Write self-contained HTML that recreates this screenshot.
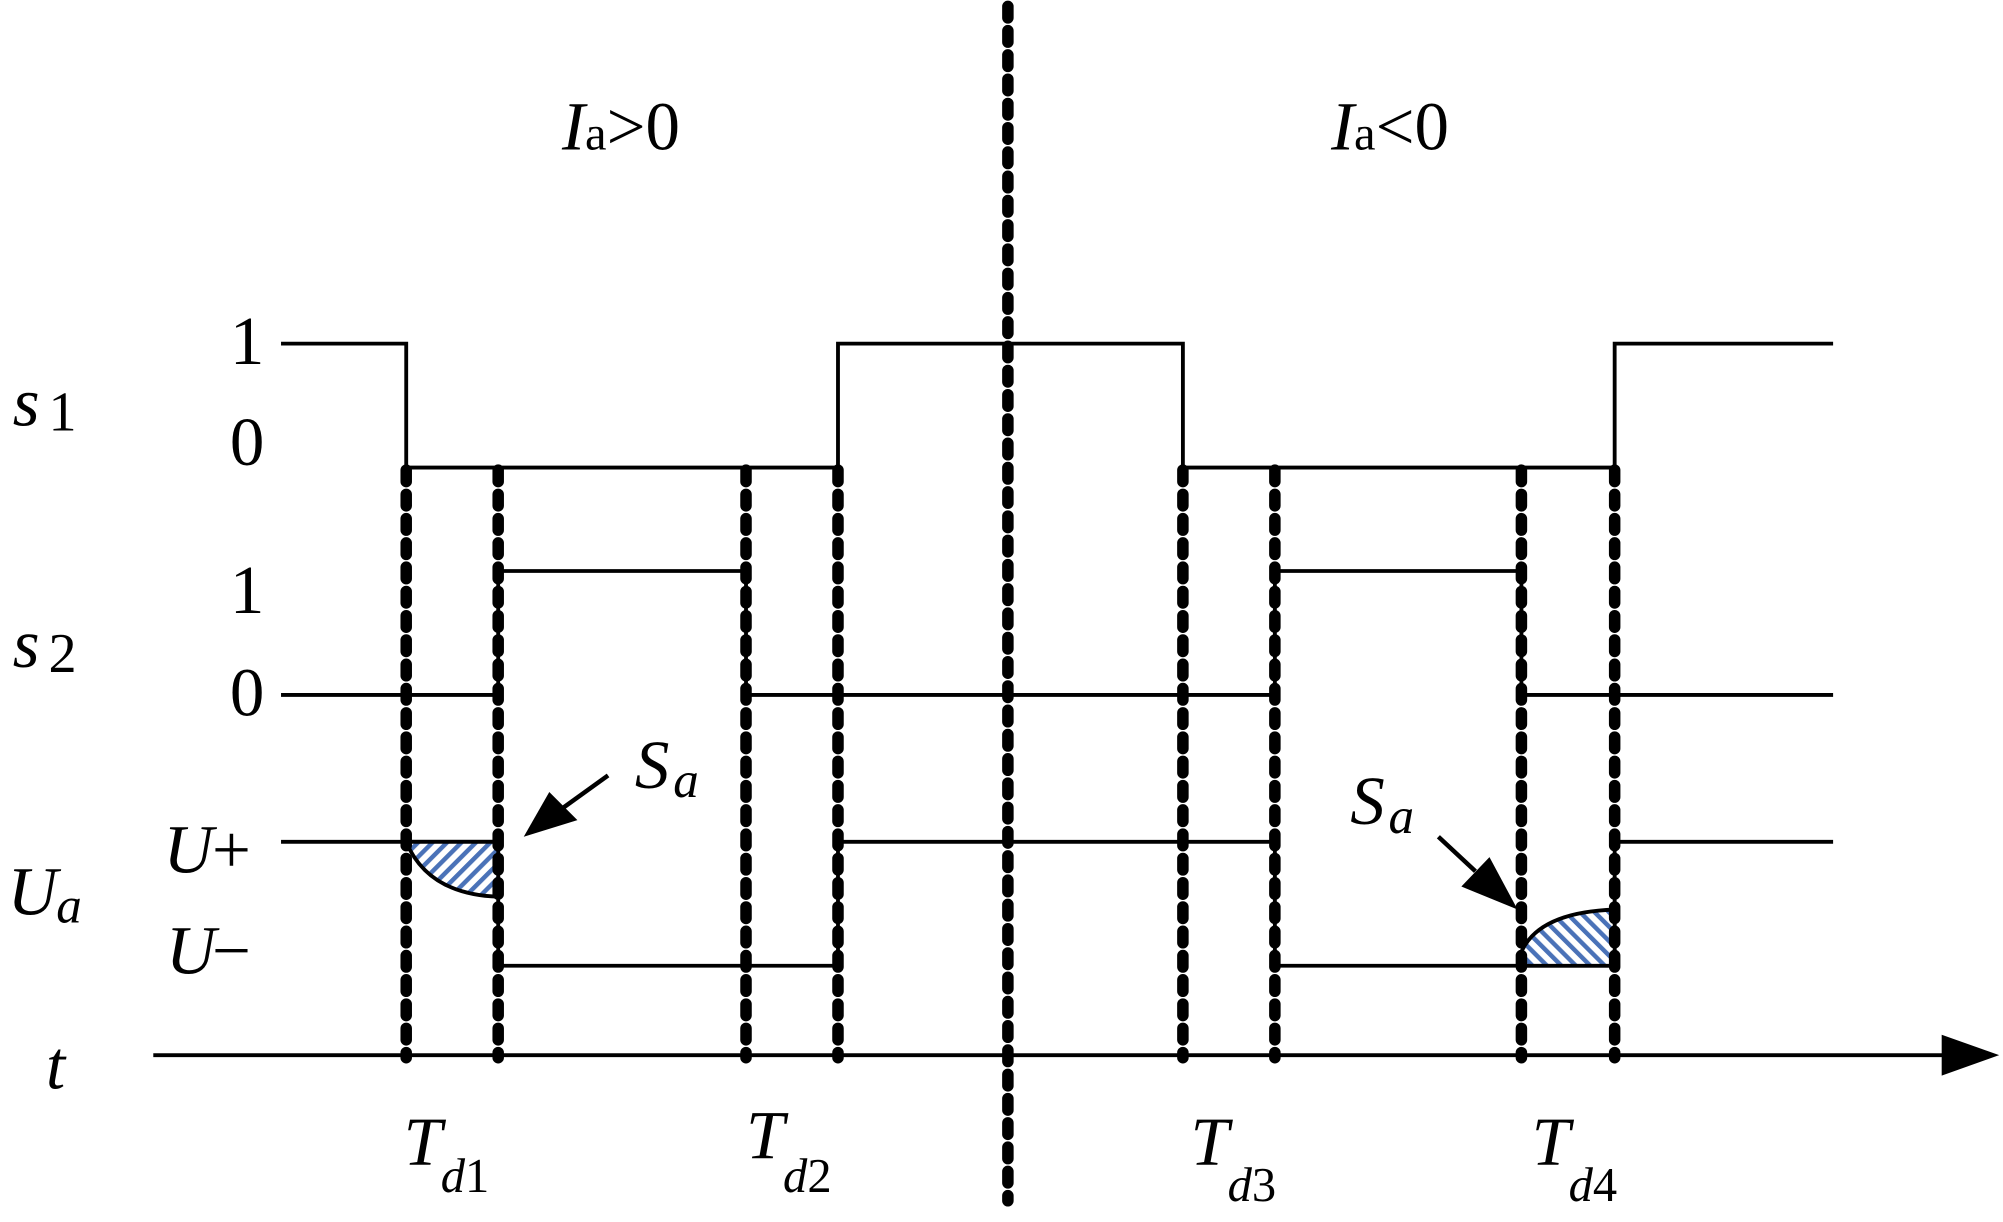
<!DOCTYPE html>
<html><head><style>html,body{margin:0;padding:0;background:#fff;}svg{display:block}text{font-family:"Liberation Serif","Times New Roman",serif;}</style></head>
<body>
<svg width="2003" height="1222" viewBox="0 0 1568 956.6" preserveAspectRatio="none" xmlns="http://www.w3.org/2000/svg">
<defs>
<pattern id="h" patternUnits="userSpaceOnUse" width="8" height="8" patternTransform="rotate(45)">
<rect width="8" height="8" fill="#fff"/><rect width="3.5" height="8" fill="#4a72b8"/>
</pattern>
<pattern id="h2" patternUnits="userSpaceOnUse" width="8" height="8" patternTransform="rotate(-45)">
<rect width="8" height="8" fill="#fff"/><rect width="3.5" height="8" fill="#4a72b8"/>
</pattern>
</defs>
<g fill="none" stroke="#000" stroke-width="3">
<polyline points="220,269 318,269 318,366 656,366 656,269 926,269 926,366 1264,366 1264,269 1435,269"/>
<polyline points="220,544 390,544 390,447 584,447 584,544 998,544 998,447 1191,447 1191,544 1435,544"/>
<polyline points="220,659 390,659 390,756 656,756 656,659 998,659 998,756 1264,756 1264,659 1435,659"/>
<line x1="120" y1="826" x2="1525" y2="826"/>
</g>
<polygon points="1520,810 1565,826 1520,842" fill="#000"/>
<path d="M318,659 L390,659 L390,702 Q335,700 318,659 Z" fill="url(#h)" stroke="#000" stroke-width="3"/>
<path d="M1191,756 L1264,756 L1264,712 Q1205,714 1191,745 Z" fill="url(#h2)" stroke="#000" stroke-width="3"/>
<g stroke="#000" stroke-width="9" stroke-linecap="round" stroke-dasharray="9 10" fill="none">
<line x1="318" y1="368" x2="318" y2="828"/>
<line x1="390" y1="368" x2="390" y2="828"/>
<line x1="584" y1="368" x2="584" y2="828"/>
<line x1="656" y1="368" x2="656" y2="828"/>
<line x1="926" y1="368" x2="926" y2="828"/>
<line x1="998" y1="368" x2="998" y2="828"/>
<line x1="1191" y1="368" x2="1191" y2="828"/>
<line x1="1264" y1="368" x2="1264" y2="828"/>
<line x1="789" y1="5" x2="789" y2="940"/>
</g>
<line x1="476" y1="607" x2="440" y2="633" stroke="#000" stroke-width="3.5"/>
<polygon points="410,655 430,620 452,642" fill="#000"/>
<line x1="1126" y1="655" x2="1155" y2="682" stroke="#000" stroke-width="3.5"/>
<polygon points="1188,712 1144,694 1166,671" fill="#000"/>
<g font-size="54" fill="#000">
<text x="440" y="117"><tspan font-style="italic">I</tspan><tspan font-size="38">a</tspan>&gt;0</text>
<text x="1042" y="117"><tspan font-style="italic">I</tspan><tspan font-size="38">a</tspan>&lt;0</text>
<text x="10" y="333" font-style="italic">s</text><text x="38" y="337" font-size="44">1</text>
<text x="180" y="285">1</text><text x="180" y="364">0</text>
<text x="10" y="522" font-style="italic">s</text><text x="38" y="526" font-size="44">2</text>
<text x="180" y="480">1</text><text x="180" y="560">0</text>
<text x="128" y="683" font-style="italic">U</text><text x="166" y="683">+</text>
<text x="130" y="762" font-style="italic">U</text><text x="166" y="762">−</text>
<text x="6" y="716" font-style="italic">U</text><text x="44" y="722" font-size="40" font-style="italic">a</text>
<text x="36" y="852" font-style="italic">t</text>
<text x="497" y="617" font-style="italic">S</text><text x="527" y="624" font-size="40" font-style="italic">a</text>
<text x="1057" y="645" font-style="italic">S</text><text x="1087" y="652" font-size="40" font-style="italic">a</text>
<text x="316" y="912" font-style="italic">T</text><text x="345" y="933" font-size="38"><tspan font-style="italic">d</tspan>1</text>
<text x="584" y="907" font-style="italic">T</text><text x="613" y="933" font-size="38"><tspan font-style="italic">d</tspan>2</text>
<text x="932" y="912" font-style="italic">T</text><text x="961" y="940" font-size="38"><tspan font-style="italic">d</tspan>3</text>
<text x="1199" y="912" font-style="italic">T</text><text x="1228" y="940" font-size="38"><tspan font-style="italic">d</tspan>4</text>
</g>
</svg>
</body></html>
